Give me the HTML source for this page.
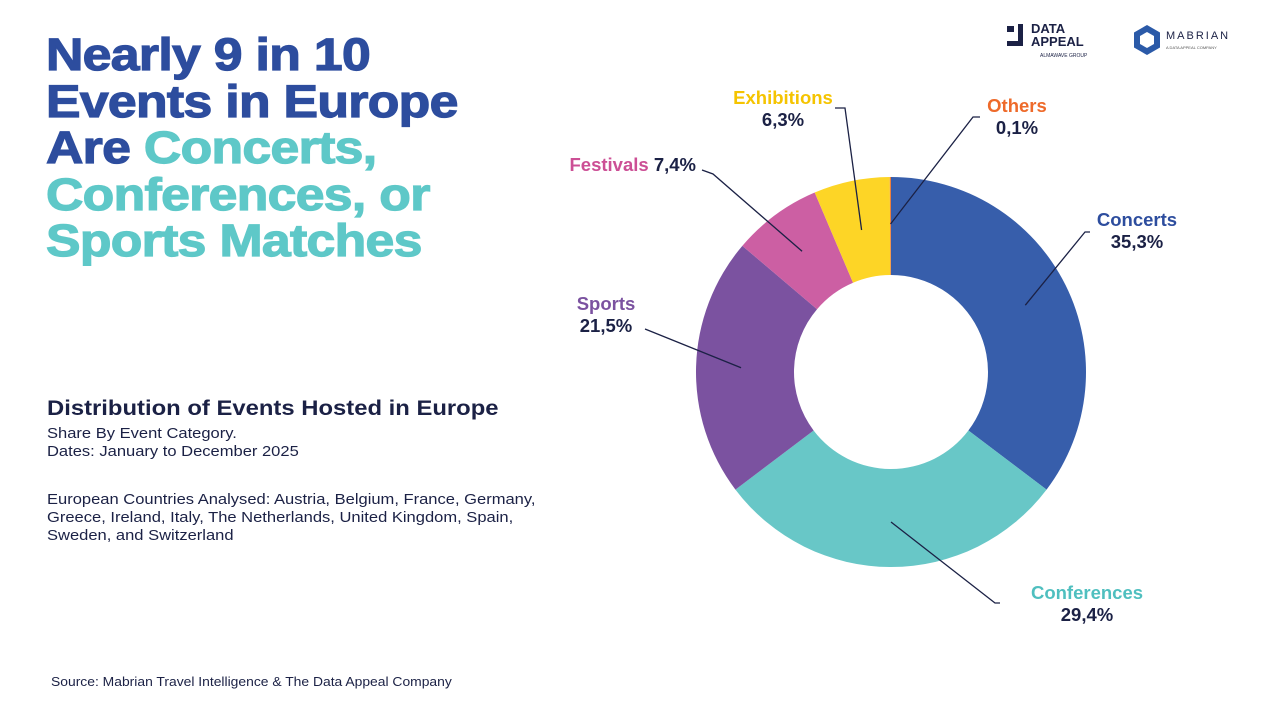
<!DOCTYPE html>
<html><head><meta charset="utf-8">
<style>
body{margin:0;width:1280px;height:720px;background:#fff;position:relative;overflow:hidden;font-family:"Liberation Sans",sans-serif;color:#1b2145}
.t{position:absolute;white-space:nowrap;transform-origin:0 0}
#title{left:46px;top:32px;font-size:45px;font-weight:bold;line-height:46.5px;color:#2d4d9e;letter-spacing:-0.6px;transform:scaleX(1.15);-webkit-text-stroke:1.2px #2d4d9e}
#title .c{color:#5ec8c8;-webkit-text-stroke:1.2px #5ec8c8}
.sub{font-size:14.5px;line-height:18px;color:#1b2145;transform:scaleX(1.14)}
</style></head><body>
<div id="title" class="t">Nearly 9 in 10<br>Events in Europe<br>Are <span class="c">Concerts,</span><br><span class="c">Conferences, or</span><br><span class="c">Sports Matches</span></div>
<div class="t" style="left:47px;top:397px;font-size:21px;font-weight:bold;color:#1b2145;transform:scaleX(1.135)">Distribution of Events Hosted in Europe</div>
<div class="t sub" style="left:47px;top:425px">Share By Event Category.<br>Dates: January to December 2025</div>
<div class="t sub" style="left:47px;top:491px">European Countries Analysed: Austria, Belgium, France, Germany,<br>Greece, Ireland, Italy, The Netherlands, United Kingdom, Spain,<br>Sweden, and Switzerland</div>
<div class="t" style="left:51px;top:675px;font-size:12.5px;transform:scaleX(1.11)">Source: Mabrian Travel Intelligence &amp; The Data Appeal Company</div>

<div style="position:absolute;left:1007px;top:24px;width:100px;height:40px">
 <div style="position:absolute;left:0;top:2px;width:7px;height:6px;background:#1b2145"></div>
 <div style="position:absolute;left:11px;top:0;width:5px;height:22px;background:#1b2145"></div>
 <div style="position:absolute;left:0;top:17px;width:16px;height:5px;background:#1b2145"></div>
 <div class="t" style="left:24px;top:-2px;font-size:13px;font-weight:900;line-height:13px">DATA<br>APPEAL</div>
 <div class="t" style="left:33px;top:29px;font-size:5px">ALMAWAVE GROUP</div>
</div>
<div style="position:absolute;left:1132px;top:24px;width:110px;height:34px">
 <svg width="30" height="32" style="position:absolute;left:0;top:0"><polygon points="15,1 28,8.5 28,23.5 15,31 2,23.5 2,8.5" fill="#2b5aa8"/><polygon points="15,8 22,12 22,20 15,24 8,20 8,12" fill="#fff"/></svg>
 <div class="t" style="left:34px;top:6px;font-size:11px;letter-spacing:2px;color:#1b2145">MABRIAN</div>
 <div class="t" style="left:34px;top:21px;font-size:4px;color:#555">A DATA APPEAL COMPANY</div>
</div>

<svg id="chart" width="1280" height="720" style="position:absolute;left:0;top:0"></svg>
<script>
const categories=["Concerts","Conferences","Sports","Festivals","Exhibitions","Others"];
const values=[35.3,29.4,21.5,7.4,6.3,0.1];
const valueLabels=["35,3%","29,4%","21,5%","7,4%","6,3%","0,1%"];
const colors=["#375eab","#68c7c7","#7b52a0","#cc5fa3","#fdd526","#f07f3c"];
const labelColors=["#2d4d9e","#4fbfbf","#7b52a0","#cc4f95","#f5c400","#ee6a2a"];
const cx=891,cy=372,R=195,r=97;
const svg=document.getElementById('chart');
const NS="http://www.w3.org/2000/svg";
const total=values.reduce((a,b)=>a+b,0);
function pt(a,rad){return [cx+rad*Math.sin(a),cy-rad*Math.cos(a)];}
let acc=0;const mids=[];
values.forEach((v,i)=>{
 const a0=acc/total*2*Math.PI;acc+=v;const a1=acc/total*2*Math.PI;
 const large=(a1-a0)>Math.PI?1:0;
 const p0=pt(a0,R),p1=pt(a1,R),q1=pt(a1,r),q0=pt(a0,r);
 const p=document.createElementNS(NS,'path');
 p.setAttribute('d',`M${p0[0]},${p0[1]} A${R},${R} 0 ${large} 1 ${p1[0]},${p1[1]} L${q1[0]},${q1[1]} A${r},${r} 0 ${large} 0 ${q0[0]},${q0[1]}Z`);
 p.setAttribute('fill',colors[i]);
 
 
 svg.appendChild(p);
 mids.push((a0+a1)/2);
});
const leaders=[[1085,232,1090,232],[995,603,1000,603],[650,331,645,329],[713,174,702,170],[845,108,835,108],[973,117,980,117]];
const inner=[150,150,150,150,145,148];
const labelPos=[[1137,220,'middle',1],[1087,593,'middle',1],[606,304,'middle',1],[628,165,'end',0],[783,98,'middle',1],[1017,106,'middle',1]];
categories.forEach((c,i)=>{
 const s=pt(mids[i],inner[i]);
 const L=leaders[i];
 const pl=document.createElementNS(NS,'polyline');
 pl.setAttribute('points',`${s[0]},${s[1]} ${L[0]},${L[1]} ${L[2]},${L[3]}`);
 pl.setAttribute('fill','none');pl.setAttribute('stroke','#1b2145');pl.setAttribute('stroke-width','1.3');
 
 
 svg.appendChild(pl);
 const [x,y,anch,two]=labelPos[i];
 const t=document.createElementNS(NS,'text');
 t.setAttribute('x',x);t.setAttribute('y',y+6);t.setAttribute('text-anchor',anch);
 t.setAttribute('font-family','Liberation Sans, sans-serif');t.setAttribute('font-size','18.5');t.setAttribute('font-weight','bold');
 
 
 if(two){
  const a=document.createElementNS(NS,'tspan');a.setAttribute('fill',labelColors[i]);a.setAttribute('x',x);a.textContent=c;t.appendChild(a);
  const b=document.createElementNS(NS,'tspan');b.setAttribute('fill','#1b2145');b.setAttribute('x',x);b.setAttribute('dy','22');b.textContent=valueLabels[i];t.appendChild(b);
 } else {
  const a=document.createElementNS(NS,'tspan');a.setAttribute('fill',labelColors[i]);a.textContent=c+' ';t.appendChild(a);
  const b=document.createElementNS(NS,'tspan');b.setAttribute('fill','#1b2145');b.textContent=valueLabels[i];t.appendChild(b);
  t.setAttribute('x',x+68);
 }
 svg.appendChild(t);
});
</script>
</body></html>
